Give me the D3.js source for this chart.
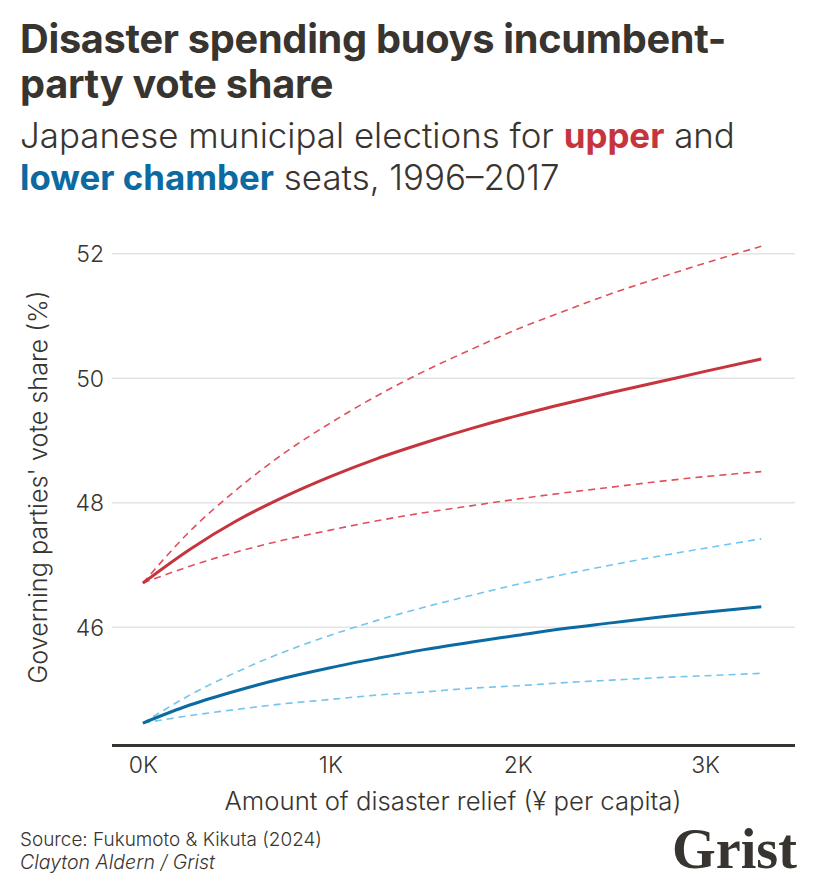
<!DOCTYPE html>
<html>
<head>
<meta charset="utf-8">
<script src="https://cdn.jsdelivr.net/npm/d3@7"></script>
<style>
  html, body { margin: 0; padding: 0; background: #ffffff; }
  svg { display: block; }
</style>
</head>
<body>
<svg id="chart" width="820" height="891"></svg>
<script>
// ---- Data ----
const relief = [0, 0.25, 0.5, 0.75, 1, 1.25, 1.5, 1.75, 2, 2.25, 2.5, 2.75, 3, 3.3]; // thousand ¥ per capita
const upperMid   = [46.71, 47.25, 47.71, 48.09, 48.42, 48.71, 48.96, 49.19, 49.40, 49.59, 49.77, 49.94, 50.11, 50.31];
const upperHigh  = [46.71, 47.54, 48.21, 48.79, 49.28, 49.72, 50.11, 50.46, 50.79, 51.08, 51.36, 51.61, 51.85, 52.12];
const upperLow   = [46.71, 46.98, 47.21, 47.40, 47.56, 47.71, 47.84, 47.95, 48.06, 48.16, 48.25, 48.34, 48.42, 48.50];
const lowerMid   = [44.46, 44.75, 44.98, 45.18, 45.35, 45.50, 45.64, 45.76, 45.87, 45.98, 46.07, 46.16, 46.24, 46.33];
const lowerHigh  = [44.46, 44.91, 45.28, 45.60, 45.87, 46.11, 46.32, 46.51, 46.69, 46.85, 47.00, 47.14, 47.27, 47.42];
const lowerLow   = [44.46, 44.58, 44.68, 44.77, 44.84, 44.91, 44.96, 45.02, 45.06, 45.11, 45.15, 45.19, 45.22, 45.26];
const yTicks = [46, 48, 50, 52];
const xTicks = [0, 1, 2, 3];
const xTickLabels = ["0K", "1K", "2K", "3K"];

const titleLines = ["Disaster spending buoys incumbent-", "party vote share"];
const yLabel = "Governing parties' vote share (%)";
const xLabel = "Amount of disaster relief (¥ per capita)";
const sourceText = "Source: Fukumoto & Kikuta (2024)";
const creditText = "Clayton Aldern / Grist";
const logoText = "Grist";

// ---- Styles ----
const SANS = "Inter, Roboto, 'Noto Sans', sans-serif";
const INK = "#38342f";
const RED = "#c6343d";
const RED_LIGHT = "#e0505b";
const BLUE = "#0c6aa2";
const BLUE_LIGHT = "#72c5ee";

const svg = d3.select("#chart").style("font-family", SANS);

function fit(sel, target) {
  const node = sel.node();
  const fs = parseFloat(sel.attr("font-size"));
  const w = node.getComputedTextLength();
  if (w > 0) sel.attr("font-size", (fs * target / w).toFixed(2));
  return sel;
}

// ---- Scales ----
const x = d3.scaleLinear().domain([-0.165, 3.48]).range([112, 795]);
const y = d3.scaleLinear().domain([44.1, 52.25]).range([745.5, 238.2]);

// ---- Title ----
const t1 = svg.append("text").attr("x", 20).attr("y", 53)
  .attr("font-size", 35).attr("font-weight", 700).attr("fill", INK)
  .attr("letter-spacing", "-0.3").text(titleLines[0]);
fit(t1, 705);
svg.append("text").attr("x", 20).attr("y", 98)
  .attr("font-size", t1.attr("font-size")).attr("font-weight", 700).attr("fill", INK)
  .attr("letter-spacing", "-0.3").text(titleLines[1]);

// ---- Subtitle ----
const s1 = svg.append("text").attr("x", 20).attr("y", 148)
  .attr("font-size", 29).attr("font-weight", 300).attr("fill", INK);
s1.append("tspan").text("Japanese municipal elections for ");
s1.append("tspan").attr("fill", RED).attr("font-weight", 700).text("upper");
s1.append("tspan").text(" and");
fit(s1, 715);
const s2 = svg.append("text").attr("x", 20).attr("y", 190)
  .attr("font-size", s1.attr("font-size")).attr("font-weight", 300).attr("fill", INK);
s2.append("tspan").attr("fill", BLUE).attr("font-weight", 700).text("lower chamber");
s2.append("tspan").text(" seats, 1996\u20132017");

// ---- Grid lines & y axis ----
svg.append("g").selectAll("line").data(yTicks).join("line")
  .attr("x1", 112).attr("x2", 795)
  .attr("y1", d => y(d)).attr("y2", d => y(d))
  .attr("stroke", "#e4e4e4").attr("stroke-width", 1.5);

const yAxis = d3.axisLeft(y).tickValues(yTicks).tickSize(0).tickPadding(0).tickFormat(d3.format("d"));
const gy = svg.append("g").attr("transform", "translate(104,0)").call(yAxis);
gy.select(".domain").remove();
gy.selectAll("text").attr("font-size", 23).attr("fill", INK).attr("font-weight", 300)
  .style("font-family", SANS).attr("dy", "0.35em");

// ---- Lines ----
const line = vals => d3.line()
  .x((d, i) => x(relief[i]))
  .y(d => y(d))
  .curve(d3.curveMonotoneX)(vals);

const series = [
  { v: lowerLow,  c: BLUE_LIGHT, w: 1.6, dash: "7,5" },
  { v: lowerHigh, c: BLUE_LIGHT, w: 1.6, dash: "7,5" },
  { v: upperLow,  c: RED_LIGHT,  w: 1.6, dash: "7,5" },
  { v: upperHigh, c: RED_LIGHT,  w: 1.6, dash: "7,5" },
  { v: lowerMid,  c: BLUE,       w: 3,   dash: null },
  { v: upperMid,  c: RED,        w: 3,   dash: null }
];
svg.append("g").selectAll("path").data(series).join("path")
  .attr("d", d => line(d.v))
  .attr("fill", "none")
  .attr("stroke", d => d.c)
  .attr("stroke-width", d => d.w)
  .attr("stroke-dasharray", d => d.dash)
  .attr("stroke-linecap", "butt");

// ---- X axis ----
svg.append("line").attr("x1", 112).attr("x2", 795)
  .attr("y1", y(44.1)).attr("y2", y(44.1))
  .attr("stroke", INK).attr("stroke-width", 3);

const xAxis = d3.axisBottom(x).tickValues(xTicks).tickSize(0).tickPadding(0)
  .tickFormat((d, i) => xTickLabels[i]);
const gx = svg.append("g").attr("transform", "translate(0,773)").call(xAxis);
gx.select(".domain").remove();
gx.selectAll("text").attr("font-size", 23).attr("fill", INK).attr("dy", 0).attr("font-weight", 300)
  .style("font-family", SANS);

const xl = svg.append("text").attr("x", 453).attr("y", 810).attr("text-anchor", "middle")
  .attr("font-size", 22).attr("font-weight", 300).attr("fill", INK).text(xLabel);
fit(xl, 457);

// ---- Y label ----
const yl = svg.append("text").attr("transform", "translate(47,487) rotate(-90)")
  .attr("text-anchor", "middle").attr("font-size", 22).attr("font-weight", 300)
  .attr("fill", INK).text(yLabel);
fit(yl, 393);

// ---- Footer ----
const src = svg.append("text").attr("x", 20).attr("y", 846)
  .attr("font-size", 16).attr("font-weight", 300).attr("fill", INK).text(sourceText);
fit(src, 302);
const cr = svg.append("text").attr("x", 20).attr("y", 869)
  .attr("font-size", 16).attr("font-weight", 300).attr("font-style", "italic").attr("fill", INK).text(creditText);
fit(cr, 195);
svg.append("text").attr("x", 672).attr("y", 868)
  .style("font-family", "'Liberation Serif', 'DejaVu Serif', serif")
  .attr("font-size", 58).attr("font-weight", 700).attr("fill", INK)
  .attr("textLength", 125).attr("lengthAdjust", "spacingAndGlyphs").text(logoText);
</script>
</body>
</html>
